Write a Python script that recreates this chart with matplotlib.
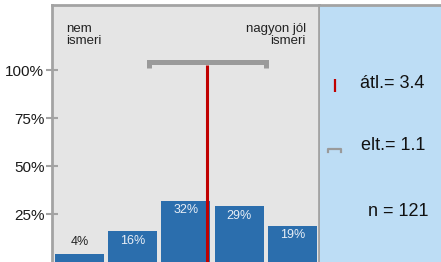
import matplotlib.pyplot as plt

plt.rcParams['font.family'] = ['Liberation Sans', 'DejaVu Sans']

# data
categories = [1, 2, 3, 4, 5]
shares = [4, 16, 32, 29, 19]
share_labels = ['4%', '16%', '32%', '29%', '19%']
mean_val = 3.4
sd_val = 1.1
n_val = 121
yticks = [25, 50, 75, 100]
ytick_labels = ['25%', '50%', '75%', '100%']

W, H = 441, 262
fig = plt.figure(figsize=(W / 100, H / 100), dpi=100)

frame_col = '#A3A3A3'
bar_col = '#2B6EAD'
red = '#C00000'
gray = '#9A9A9A'

# main panel
ax = fig.add_axes([52 / W, 0, (319 - 52) / W, 257 / H], facecolor='#E5E5E5')
ax.bar(categories, shares, width=0.92, color=bar_col, zorder=2)
ax.set_xlim(0.484, 5.498)
ax.set_ylim(0, 134)

for x, v, lab in zip(categories, shares, share_labels):
    if v < 10:
        ax.text(x, v + 6.2, lab, ha='center', va='center', fontsize=9, color='#222222', zorder=3)
    else:
        ax.text(x, v - 5.0, lab, ha='center', va='center', fontsize=9, color='#E8EEF6', zorder=3)

# mean line and sd bracket
ax.plot([mean_val, mean_val], [0, 102.8], color=red, lw=2.2, zorder=4, solid_capstyle='butt')
lo, hi = mean_val - sd_val, mean_val + sd_val
ax.plot([lo, lo, hi, hi], [101.0, 104.1, 104.1, 101.0], color=gray, lw=3.6,
        solid_joinstyle='miter', solid_capstyle='butt', zorder=3)

ax.text(0.746, 124.8, 'nem\nismeri', ha='left', va='top', fontsize=9.5, linespacing=1.0, color='#222222')
ax.text(5.25, 124.8, 'nagyon jól\nismeri', ha='right', va='top', fontsize=9.5, linespacing=1.0,
        multialignment='right', color='#222222')

ax.set_xticks([])
ax.set_yticks(yticks)
ax.set_yticklabels(ytick_labels, fontsize=11, color='#1A1A1A')
ax.tick_params(axis='y', direction='inout', length=9, width=1.5, color=frame_col, pad=1)
for side in ['left', 'top', 'right']:
    ax.spines[side].set_color(frame_col)
    ax.spines[side].set_linewidth(2)
ax.spines['bottom'].set_visible(False)

# stats panel
ax2 = fig.add_axes([320 / W, 0, (W - 320) / W, 257 / H], facecolor='#BDDDF5')
ax2.set_xlim(0, W - 320)
ax2.set_ylim(0, 257)
ax2.set_xticks([])
ax2.set_yticks([])
for side in ['left', 'right', 'bottom']:
    ax2.spines[side].set_visible(False)
ax2.spines['top'].set_color(frame_col)
ax2.spines['top'].set_linewidth(2)

ax2.plot([15, 15], [170.5, 183], color=red, lw=1.6, solid_capstyle='butt')
ax2.plot([7.5, 7.5, 21, 21], [110, 113, 113, 110], color=gray, lw=1.6, solid_joinstyle='round')
ax2.text(40, 179, 'átl.= %.1f' % mean_val, ha='left', va='center', fontsize=13, color='#111111')
ax2.text(41, 116, 'elt.= %.1f' % sd_val, ha='left', va='center', fontsize=13, color='#111111')
ax2.text(108, 51, 'n = %d' % n_val, ha='right', va='center', fontsize=13, color='#111111')

fig.savefig('out.png', dpi=100)
